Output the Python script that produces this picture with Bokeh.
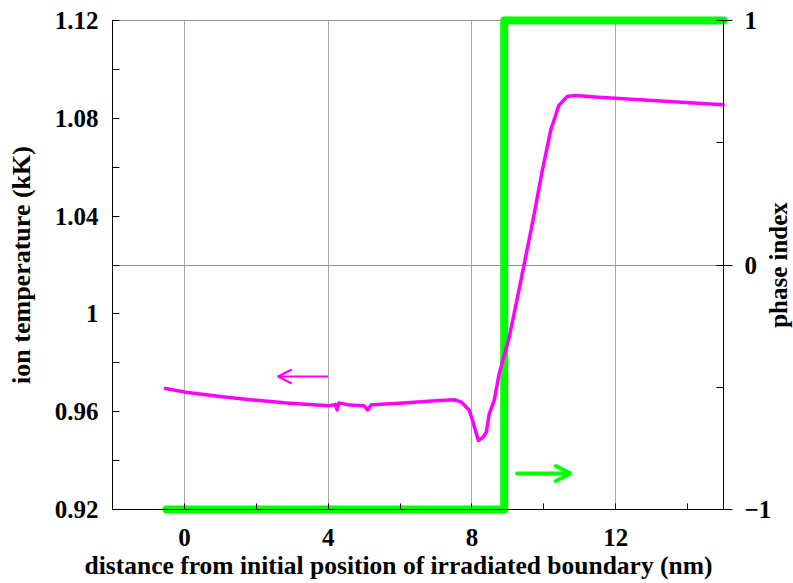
import math
from bokeh.plotting import figure
from bokeh.models import (Range1d, LinearAxis, FixedTicker, Grid, Arrow, OpenHead, Label)
from bokeh.embed import file_html
from bokeh.resources import INLINE

# ---- data ----
dist_nm = [-0.53, 0.03, 1.0, 1.83, 2.94, 4.02, 4.2, 4.25, 4.3, 4.6, 5.0, 5.1, 5.2,
           5.99, 7.10, 7.51, 7.71, 7.93, 8.07, 8.18, 8.30, 8.40, 8.48, 8.62, 8.76,
           9.04, 9.40, 9.68, 9.96, 10.19, 10.42, 10.65, 10.88, 11.53, 14.99]
ion_temp_kK = [0.9695, 0.9680, 0.9662, 0.9649, 0.9635, 0.9624, 0.9630, 0.9607, 0.9636,
               0.9627, 0.9624, 0.9607, 0.9628,
               0.9635, 0.9646, 0.9649, 0.9639, 0.9605, 0.9537, 0.9482, 0.9494, 0.9516,
               0.9590, 0.9646, 0.9756,
               0.9905, 1.0164, 1.0368, 1.0587, 1.0750, 1.0853, 1.0889, 1.0893, 1.0886, 1.0855]

phase_x = [-0.5, 8.9, 8.9, 15.0]
phase_index = [-1, -1, 1, 1]

x_lim = (-2.0, 15.0)
temp_lim = (0.92, 1.12)
phase_lim = (-1.0, 1.0)
x_ticks = [0, 4, 8, 12]
x_minor = [2, 6, 10, 14]
temp_ticks = [0.92, 0.96, 1.0, 1.04, 1.08, 1.12]
temp_labels = ["0.92", "0.96", "1", "1.04", "1.08", "1.12"]
temp_minor = [0.94, 0.98, 1.02, 1.06, 1.10]
phase_ticks = [-1, 0, 1]
phase_minor = [-0.5, 0.5]

x_title = "distance from initial position of irradiated boundary (nm)"
temp_title = "ion temperature (kK)"
phase_title = "phase index"

# annotation arrows (data coordinates)
temp_arrow = dict(x_start=4.0, x_end=2.6, y=0.9744)
phase_arrow = dict(x_start=9.26, x_end=10.75, y=-0.853)

FONT = "Liberation Serif"
MAGENTA = "#ff00ff"
GREEN = "#00ff00"

# The frame spans the whole canvas; axes are pinned at the data extents so that
# thick lines on the border are not clipped and labels stay inside the frame.
W, H = 793, 583
AX_L, AX_R, AX_T, AX_B = 112, 723, 20, 509
sx = (x_lim[1] - x_lim[0]) / (AX_R - AX_L)
sy = (temp_lim[1] - temp_lim[0]) / (AX_B - AX_T)
sp = (phase_lim[1] - phase_lim[0]) / (AX_B - AX_T)

p = figure(width=W, height=H,
           x_range=Range1d(x_lim[0] - AX_L * sx, x_lim[1] + (W - AX_R) * sx),
           y_range=Range1d(temp_lim[0] - (H - AX_B) * sy, temp_lim[1] + AX_T * sy),
           output_backend="svg", toolbar_location=None,
           min_border_left=0, min_border_right=0, min_border_top=0, min_border_bottom=0)
p.outline_line_color = None
p.background_fill_color = "white"
p.border_fill_color = "white"
p.extra_y_ranges = {"phase": Range1d(phase_lim[0] - (H - AX_B) * sp, phase_lim[1] + AX_T * sp)}

# bottom axis
xa = p.xaxis[0]
xa.ticker = FixedTicker(ticks=x_ticks, minor_ticks=x_minor)
xa.fixed_location = temp_lim[0]
xa.bounds = x_lim
# left axis
ya = p.yaxis[0]
ya.ticker = FixedTicker(ticks=temp_ticks, minor_ticks=temp_minor)
ya.major_label_overrides = {t: l for t, l in zip(temp_ticks, temp_labels)}
ya.axis_label = temp_title
ya.fixed_location = x_lim[0]
ya.bounds = temp_lim

# right axis
ra = LinearAxis(y_range_name="phase", ticker=FixedTicker(ticks=phase_ticks, minor_ticks=phase_minor))
ra.fixed_location = x_lim[1]
ra.bounds = phase_lim
p.add_layout(ra, "right")

for ax in (xa, ya, ra):
    ax.axis_line_color = "black"
    ax.axis_line_width = 1
    ax.major_tick_line_color = "black"
    ax.minor_tick_line_color = "black"
    ax.major_label_text_font = FONT
    ax.major_label_text_font_style = "bold"
    ax.major_label_text_font_size = "25px"
    ax.major_label_text_color = "black"
    ax.axis_label_text_font = FONT
    ax.axis_label_text_font_style = "bold"
    ax.axis_label_text_font_size = "26px"
    ax.axis_label_text_color = "black"

xa.major_tick_in = 6
xa.major_tick_out = 0
xa.minor_tick_in = 6
xa.minor_tick_out = 0
xa.major_label_standoff = 19

ya.major_tick_in = 7
ya.major_tick_out = 0
ya.minor_tick_in = 7
ya.minor_tick_out = 0
ya.major_label_standoff = 14
ya.axis_label_standoff = 16

ra.major_tick_in = 7
ra.major_tick_out = 9
ra.minor_tick_in = 7
ra.minor_tick_out = 0
ra.major_label_standoff = 12

# bottom axis title (centred as in the reference, slightly left of the frame centre)
p.add_layout(Label(x=x_lim[0] + (398 - AX_L) * sx, y=temp_lim[0], y_offset=-56,
                   text=x_title, text_align="center", text_baseline="alphabetic",
                   text_font=FONT, text_font_style="bold", text_font_size="25.5px",
                   text_color="black"))

# right axis title (reads bottom-to-top like the left one)
p.add_layout(Label(x=x_lim[1], y=0, y_range_name="phase", x_offset=55, text=phase_title,
                   angle=math.pi / 2, text_align="center", text_baseline="middle",
                   text_font=FONT, text_font_style="bold", text_font_size="25px",
                   text_color="black"))

# grids
p.xgrid.grid_line_color = "#a8a8a8"
p.xgrid.grid_line_width = 1
p.xgrid.cross_bounds = temp_lim
p.ygrid.visible = False
p.add_layout(Grid(dimension=1, ticker=FixedTicker(ticks=phase_ticks), y_range_name="phase",
                  cross_bounds=x_lim, grid_line_color="#909090", grid_line_width=1))

# series
p.line(phase_x, phase_index, y_range_name="phase", line_color=GREEN, line_width=8,
       line_cap="round", line_join="round")
p.line(dist_nm, ion_temp_kK, line_color=MAGENTA, line_width=3.5, line_join="round", line_cap="round")

p.add_layout(Arrow(end=OpenHead(size=14, line_color=MAGENTA, line_width=2),
                   x_start=temp_arrow["x_start"], y_start=temp_arrow["y"],
                   x_end=temp_arrow["x_end"], y_end=temp_arrow["y"],
                   line_color=MAGENTA, line_width=2))
p.add_layout(Arrow(end=OpenHead(size=15, line_color=GREEN, line_width=4, line_cap="round"),
                   x_start=phase_arrow["x_start"], y_start=phase_arrow["y"],
                   x_end=phase_arrow["x_end"], y_end=phase_arrow["y"],
                   y_range_name="phase",
                   line_color=GREEN, line_width=4, line_cap="round"))

open("out.html", "w").write(file_html(p, INLINE))
